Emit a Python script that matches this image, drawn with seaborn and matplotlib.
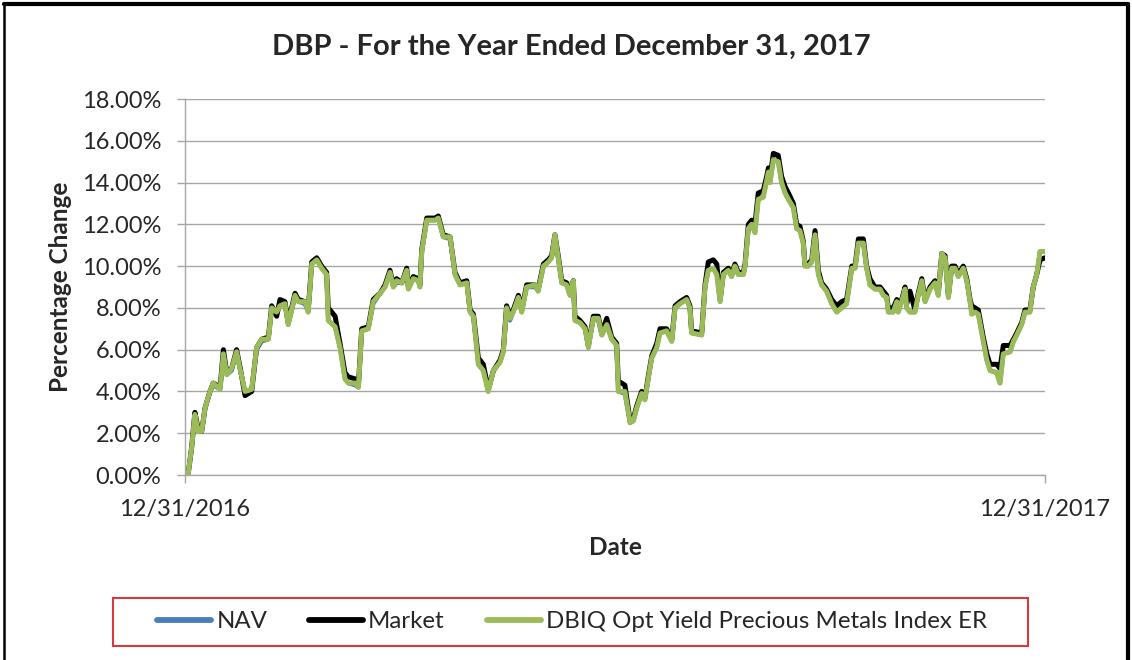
import numpy as np
import pandas as pd
import matplotlib
matplotlib.use("Agg")
import matplotlib.pyplot as plt
import seaborn as sns
from matplotlib.patches import Rectangle
from matplotlib.lines import Line2D
from matplotlib.ticker import FuncFormatter

# ---------------- data (days after 12/31/2016, values in %) ----------------
days = [
    0, 1.4, 2.8, 4.2, 5.6, 7.1, 8.5, 10.6, 12.0, 14.9,
    16.3, 17.7, 19.8, 21.9, 23.3, 25.5, 28.3, 30.4, 32.6, 35.4,
    36.8, 38.9, 40.3, 42.4, 43.8, 46.7, 48.1, 50.9, 52.3, 53.8,
    55.9, 58.0, 60.1, 60.8, 63.7, 65.8, 67.9, 69.3, 72.2, 73.6,
    75.0, 77.8, 79.9, 82.8, 84.9, 87.0, 88.4, 89.8, 92.0, 94.1,
    94.8, 96.9, 99.0, 99.7, 100.5, 102.6, 106.1, 107.5, 109.6, 112.5,
    114.6, 116.7,
    119.6, 121.0, 122.4, 124.5, 126.6, 128.7, 130.9, 133.7, 135.1, 136.5,
    137.9, 139.3, 141.5, 142.9, 145.0, 148.5, 149.9, 152.1, 154.2, 155.6,
    157.0, 158.4, 159.9, 162.0, 163.4, 164.8, 165.5, 167.6, 169.8, 171.2,
    173.3, 175.4, 176.9, 179.0, 181.1, 183.2, 183.9, 186.7, 188.9, 190.3,
    191.7, 193.8, 195.2, 196.6, 198.1, 200.2, 201.6, 204.4, 206.6, 208.0,
    210.1, 212.9, 214.3, 215.0, 219.3, 220.7, 222.1, 224.2, 225.7, 227.1,
    228.5, 230.6, 232.0, 233.4, 234.8, 237.0, 237.7, 239.1, 240.5, 241.9,
    243.3, 245.4, 246.9, 247.6, 248.3, 249.7, 251.8, 253.2, 254.7, 256.1,
    258.2, 259.6, 261.0, 262.4, 263.1, 264.5, 266.0, 267.4, 268.8, 270.2,
    272.3, 274.5, 276.6, 278.7, 280.8, 283.0, 284.4, 285.8, 287.9, 289.3,
    290.7, 292.8, 295.0, 296.4, 297.8, 298.5, 300.6, 302.1, 302.7, 304.2,
    305.6, 306.3, 307.7, 309.8, 311.2, 312.7, 314.1, 316.2, 318.3, 319.7,
    321.2, 322.6, 324.0, 325.4, 326.8, 328.2, 330.3, 331.8, 333.2, 333.9,
    335.3, 336.7, 338.8, 340.3, 341.7, 344.5, 345.9, 347.3, 350.2, 351.6,
    353.0, 355.1, 356.5, 358.6, 360.0, 361.5, 362.9, 365.0,
]

index_er = [
    0.0, 0.1, 1.3, 2.9, 2.1, 2.1, 3.2, 4.0, 4.4, 4.1,
    5.8, 4.8, 5.1, 5.9, 5.1, 4.0, 4.1, 6.1, 6.5, 6.5,
    8.0, 7.8, 8.1, 8.2, 7.2, 8.6, 8.3, 8.3, 7.8, 10.1,
    10.3, 9.9, 9.6, 7.4, 7.1, 6.1, 4.6, 4.4, 4.4, 4.2,
    6.9, 7.0, 8.3, 8.7, 9.0, 9.7, 9.0, 9.3, 9.2, 9.8,
    8.9, 9.4, 9.3, 9.0, 10.7, 12.2, 12.2, 12.3, 11.4, 11.4,
    9.6, 9.1,
    9.2, 7.8, 7.6, 5.3, 5.0, 4.0, 5.0, 5.4, 5.9, 8.0,
    7.5, 7.8, 8.5, 7.8, 9.0, 9.1, 8.8, 10.0, 10.2, 10.4,
    11.5, 10.4, 9.2, 9.1, 8.6, 9.3, 7.4, 7.3, 7.0, 6.1,
    7.5, 7.5, 6.7, 7.2, 6.5, 6.2, 4.0, 4.0, 2.5, 2.6,
    3.2, 3.9, 3.6, 4.6, 5.6, 6.1, 6.8, 6.9, 6.4, 8.0,
    8.2, 8.4, 8.0, 6.8, 6.7, 9.0, 9.8, 9.9, 9.6, 8.3,
    9.6, 9.8, 9.5, 10.0, 9.6, 9.6, 10.0, 11.8, 12.0, 11.6,
    13.2, 13.3, 14.1, 14.5, 14.0, 15.1, 15.0, 14.0, 13.5, 13.2,
    12.8, 11.8, 11.7, 11.1, 10.0, 10.0, 10.2, 11.5, 9.6, 9.1,
    8.8, 8.2, 7.8, 8.0, 8.2, 9.9, 9.9, 11.1, 11.1, 9.9,
    9.1, 8.9, 8.9, 8.6, 8.5, 7.8, 7.8, 8.3, 7.8, 8.3,
    8.9, 8.0, 7.8, 7.8, 8.6, 9.3, 8.3, 8.9, 9.2, 8.6,
    10.6, 10.4, 8.5, 9.9, 9.9, 9.5, 9.9, 9.3, 8.3, 7.7,
    7.8, 7.7, 6.4, 5.5, 5.0, 4.9, 4.4, 5.8, 5.9, 6.4,
    6.7, 7.2, 7.8, 7.8, 9.0, 9.6, 10.7, 10.7,
]

market = [
    0.0, 0.1, 1.3, 3.0, 2.2, 2.1, 3.2, 4.0, 4.4, 4.2,
    6.0, 4.9, 5.1, 6.0, 5.2, 3.8, 4.0, 6.1, 6.5, 6.6,
    8.1, 7.6, 8.4, 8.3, 7.3, 8.7, 8.4, 8.3, 7.9, 10.2,
    10.4, 10.0, 9.7, 8.0, 7.6, 6.3, 4.9, 4.7, 4.6, 4.3,
    7.0, 7.1, 8.4, 8.7, 9.1, 9.8, 9.1, 9.4, 9.2, 9.9,
    9.0, 9.5, 9.4, 9.1, 10.8, 12.3, 12.3, 12.4, 11.5, 11.4,
    9.7, 9.2,
    9.3, 7.9, 7.7, 5.6, 5.3, 4.1, 5.0, 5.5, 6.0, 8.1,
    7.6, 7.9, 8.6, 7.9, 9.1, 9.1, 8.9, 10.1, 10.3, 10.5,
    11.5, 10.5, 9.3, 9.2, 8.7, 9.3, 7.6, 7.4, 7.1, 6.2,
    7.6, 7.6, 6.8, 7.5, 6.6, 6.3, 4.5, 4.3, 2.6, 2.7,
    3.3, 4.0, 3.7, 4.7, 5.7, 6.3, 7.0, 7.0, 6.5, 8.1,
    8.3, 8.5, 8.1, 6.9, 6.8, 9.1, 10.2, 10.3, 10.1, 8.4,
    9.7, 9.9, 9.6, 10.1, 9.7, 9.7, 10.1, 12.0, 12.2, 12.0,
    13.5, 13.6, 14.3, 14.7, 14.2, 15.4, 15.3, 14.3, 13.8, 13.5,
    13.0, 12.0, 11.9, 11.2, 10.1, 10.1, 10.3, 11.7, 9.8, 9.2,
    8.9, 8.4, 8.1, 8.3, 8.4, 10.0, 10.0, 11.3, 11.3, 10.0,
    9.4, 9.0, 9.0, 8.8, 8.6, 8.0, 8.0, 8.4, 8.0, 8.4,
    9.0, 8.2, 8.8, 7.9, 8.7, 9.4, 8.4, 9.0, 9.3, 8.7,
    10.6, 10.5, 8.6, 10.0, 10.0, 9.6, 10.0, 9.4, 8.4, 8.1,
    8.0, 7.9, 6.6, 5.8, 5.3, 5.3, 5.1, 6.2, 6.2, 6.5,
    6.8, 7.3, 7.9, 7.9, 9.0, 9.6, 10.3, 10.4,
]

nav = [
    0.0, 0.1, 1.3, 2.9, 2.1, 2.1, 3.2, 4.0, 4.3, 4.1,
    5.8, 4.8, 5.0, 5.9, 5.1, 4.0, 4.1, 6.0, 6.4, 6.5,
    8.0, 7.7, 8.1, 8.2, 7.2, 8.5, 8.3, 8.2, 7.8, 10.1,
    10.3, 9.9, 9.6, 7.4, 7.1, 6.1, 4.6, 4.4, 4.3, 4.2,
    6.9, 7.0, 8.2, 8.7, 9.0, 9.7, 9.0, 9.2, 9.2, 9.8,
    8.9, 9.4, 9.3, 9.0, 10.7, 12.2, 12.2, 12.3, 11.4, 11.3,
    9.6, 9.1,
    9.2, 7.8, 7.6, 5.3, 5.0, 4.0, 5.0, 5.4, 5.9, 8.0,
    7.4, 7.8, 8.5, 7.8, 9.0, 9.0, 8.8, 10.0, 10.2, 10.4,
    11.5, 10.4, 9.2, 9.1, 8.6, 9.3, 7.4, 7.3, 7.0, 6.1,
    7.5, 7.4, 6.7, 7.2, 6.5, 6.2, 4.0, 3.9, 2.5, 2.6,
    3.2, 3.9, 3.6, 4.6, 5.6, 6.1, 6.8, 6.9, 6.4, 8.0,
    8.2, 8.4, 8.0, 6.8, 6.7, 9.0, 9.8, 9.9, 9.6, 8.3,
    9.6, 9.8, 9.5, 10.0, 9.6, 9.6, 10.0, 11.8, 12.0, 11.6,
    13.2, 13.3, 14.1, 14.5, 14.0, 15.1, 15.0, 14.0, 13.5, 13.2,
    12.8, 11.8, 11.7, 11.1, 10.0, 10.0, 10.2, 11.5, 9.6, 9.1,
    8.8, 8.2, 7.8, 8.0, 8.2, 9.9, 9.9, 11.1, 11.1, 9.9,
    9.1, 8.9, 8.9, 8.6, 8.5, 7.8, 7.8, 8.3, 7.8, 8.3,
    8.9, 8.0, 7.8, 7.8, 8.6, 9.3, 8.3, 8.9, 9.2, 8.6,
    10.6, 10.4, 8.5, 9.9, 9.9, 9.5, 9.9, 9.3, 8.3, 7.7,
    7.8, 7.7, 6.4, 5.5, 5.0, 4.9, 4.4, 5.8, 5.9, 6.4,
    6.7, 7.2, 7.8, 7.8, 9.0, 9.6, 10.7, 10.7,
]

series_names = ["NAV", "Market", "DBIQ Opt Yield Precious Metals Index ER"]
series_colors = ["#4a7ebb", "#000000", "#9bbb59"]
x_tick_labels = ["12/31/2016", "12/31/2017"]
y_ticks = [0, 2, 4, 6, 8, 10, 12, 14, 16, 18]
title_text = "DBP - For the Year Ended December 31, 2017"

assert len(days) == len(index_er) == len(market) == len(nav)

start = pd.Timestamp("2016-12-31")
end = pd.Timestamp("2017-12-31")
dates = start + pd.to_timedelta(days, unit="D")
df = pd.DataFrame({"Date": dates, series_names[0]: nav,
                   series_names[1]: market, series_names[2]: index_er})

# ---------------- style ----------------
sns.set_style("white")
plt.rcParams["font.family"] = ["Lato", "DejaVu Sans"]
W, H = 1132, 660
fig = plt.figure(figsize=(W / 100, H / 100), dpi=100)
ax = fig.add_axes([185 / W, 1 - 475 / H, 860 / W, 376 / H])

lws = [3.2, 3.6, 3.6]
for name, col, lw in zip(series_names, series_colors, lws):
    sns.lineplot(data=df, x="Date", y=name, color=col, linewidth=lw, ax=ax,
                 label=name, legend=False)

ax.set_xlim(start, end)
ax.set_ylim(0, 18)
ax.set_yticks(y_ticks)
ax.yaxis.set_major_formatter(FuncFormatter(lambda v, p: f"{v:.2f}%"))
ax.set_xticks([start, end])
ax.set_xticklabels(x_tick_labels)

grid_c = "#a6a6a6"
ax.grid(axis="y", color=grid_c, linewidth=1.0)
ax.set_axisbelow(True)
for s in ["top", "right"]:
    ax.spines[s].set_visible(False)
for s in ["left", "bottom"]:
    ax.spines[s].set_color(grid_c)
    ax.spines[s].set_linewidth(1.0)
ax.tick_params(axis="y", direction="out", length=6, width=1, color=grid_c,
               labelsize=17, pad=11, labelcolor="#262626", left=True)
ax.tick_params(axis="x", direction="out", length=6, width=1, color=grid_c,
               labelsize=17, pad=11, labelcolor="#262626", bottom=True)

ax.set_xlabel("Date", fontsize=17.5, fontweight="bold", labelpad=12)
ax.set_ylabel("Percentage Change", fontsize=17.5, fontweight="bold", labelpad=7)

fig.text(571 / W, 1 - 47 / H, title_text, ha="center", va="center",
         fontsize=21, fontweight="bold")

# legend
handles = [Line2D([], [], color=c, linewidth=4.2) for c in series_colors]
fig.legend(handles, series_names, loc="center",
           bbox_to_anchor=(572 / W, 1 - 622 / H), ncol=3, frameon=False,
           fontsize=17.3, handlelength=2.25, handletextpad=0.2,
           columnspacing=1.75)
fig.patches.append(Rectangle((113 / W, 1 - 646 / H), 915 / W, 48 / H,
                             transform=fig.transFigure, fill=False,
                             edgecolor="#d63a3a", linewidth=1.5))

# outer border
fig.lines.append(Line2D([4 / W, 4 / W], [0, 1 - 4 / H], transform=fig.transFigure,
                        color="black", linewidth=1.8))
fig.lines.append(Line2D([4 / W, 1128 / W], [1 - 4 / H, 1 - 4 / H],
                        transform=fig.transFigure, color="black", linewidth=3))
fig.lines.append(Line2D([1128 / W, 1128 / W], [0, 1 - 4 / H],
                        transform=fig.transFigure, color="black", linewidth=3))

fig.savefig("out.png", dpi=100)
